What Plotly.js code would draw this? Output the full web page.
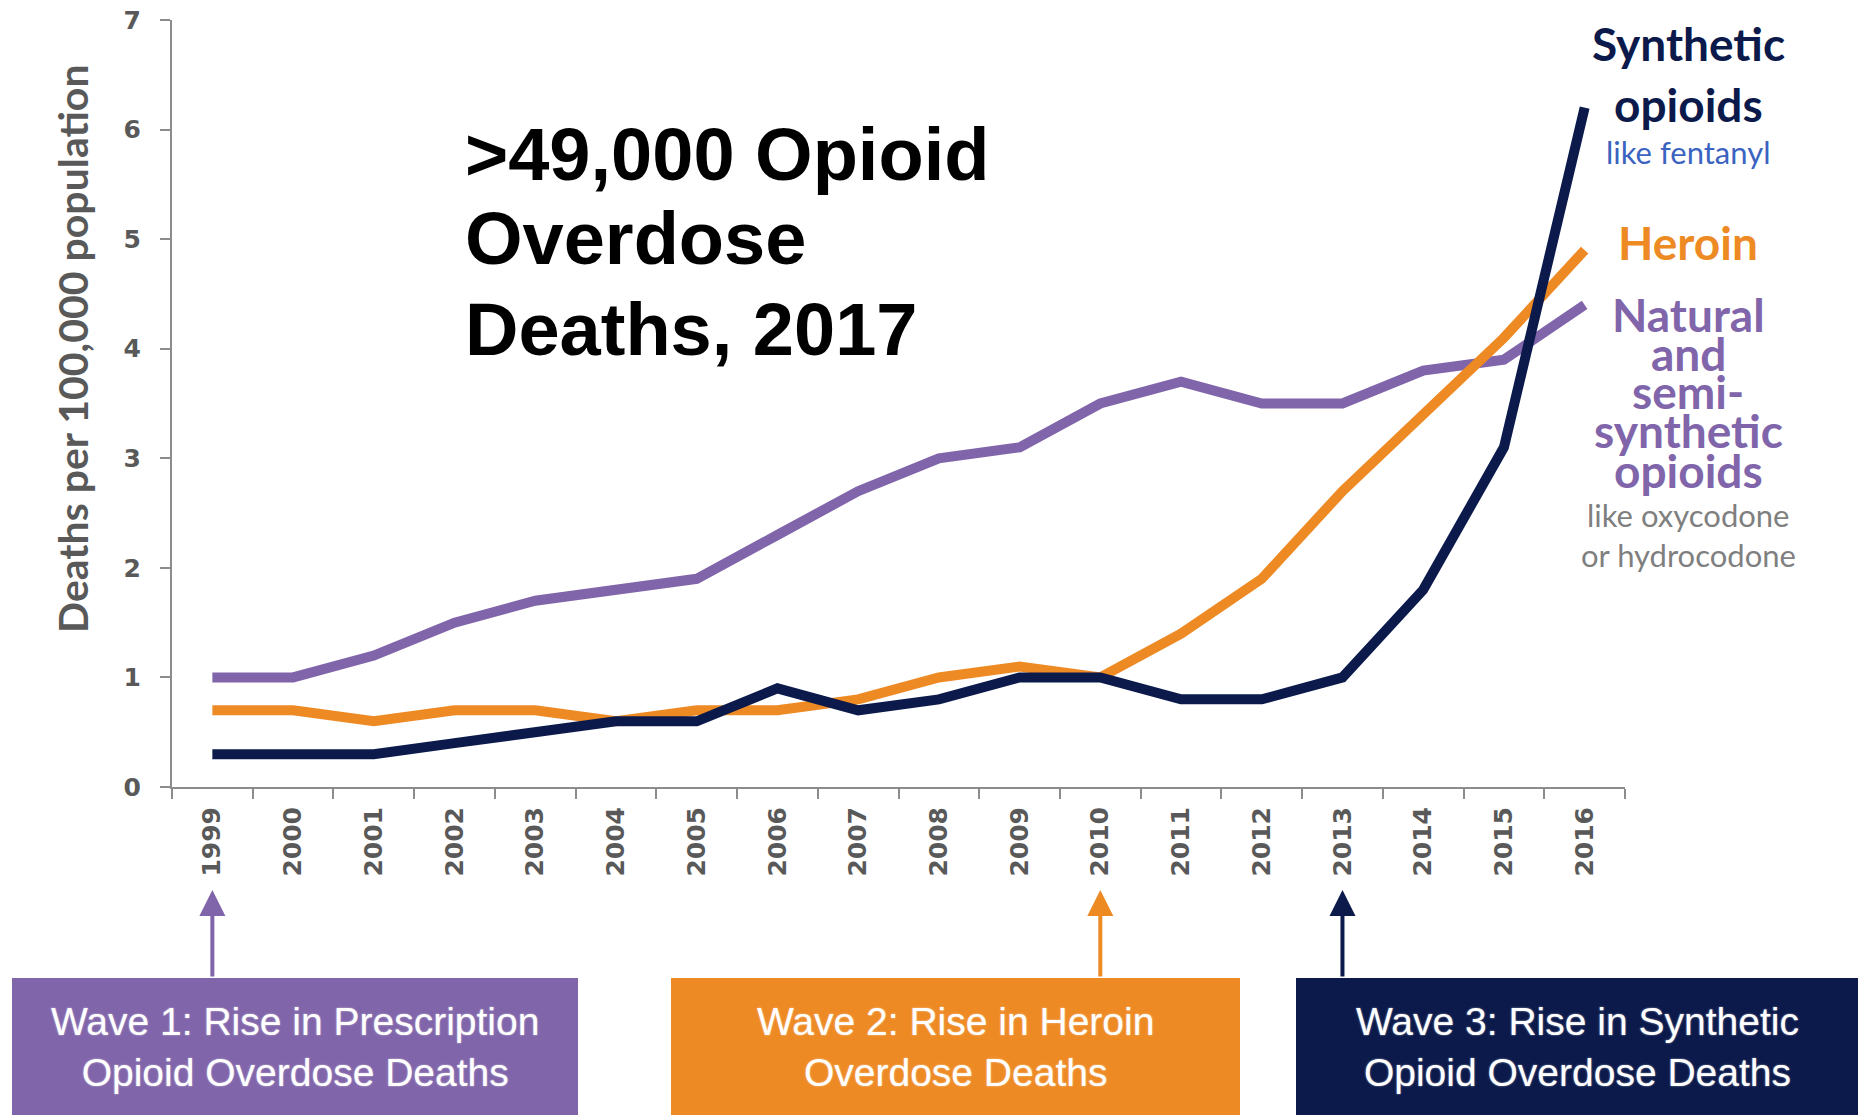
<!DOCTYPE html>
<html>
<head>
<meta charset="utf-8">
<script src="https://cdn.plot.ly/plotly-3.0.1.min.js"></script>
<style>html,body{margin:0;padding:0;background:#fff;}#chart{width:1858px;height:1115px;}</style>
</head>
<body>
<div id="chart"></div>
<script>
// ---- data ----
const years = ['1999','2000','2001','2002','2003','2004','2005','2006','2007','2008','2009','2010','2011','2012','2013','2014','2015','2016'];
const naturalSemiSynthetic = [1.0,1.0,1.2,1.5,1.7,1.8,1.9,2.3,2.7,3.0,3.1,3.5,3.7,3.5,3.5,3.8,3.9,4.4];
const heroin = [0.7,0.7,0.6,0.7,0.7,0.6,0.7,0.7,0.8,1.0,1.1,1.0,1.4,1.9,2.7,3.4,4.1,4.9];
const syntheticOpioids = [0.3,0.3,0.3,0.4,0.5,0.6,0.6,0.9,0.7,0.8,1.0,1.0,0.8,0.8,1.0,1.8,3.1,6.2];
const titleLines = ['>49,000 Opioid','Overdose','Deaths, 2017'];
const waveYears = ['1999','2010','2013'];
const waveLabels = ['Wave 1: Rise in Prescription<br>Opioid Overdose Deaths','Wave 2: Rise in Heroin<br>Overdose Deaths','Wave 3: Rise in Synthetic<br>Opioid Overdose Deaths'];

const PURPLE = '#8065aa', ORANGE = '#ee8a24', NAVY = '#0b1a4b';
const W = 1858, H = 1115, L = 172, R = 1625, T = 20, B = 787;
const px2x = p => (p - L) / (R - L);
const px2y = p => (B - p) / (B - T);

const traces = [
  {x: years, y: naturalSemiSynthetic, name: 'Natural and semi-synthetic opioids', type: 'scatter', mode: 'lines', line: {color: PURPLE, width: 10}},
  {x: years, y: heroin, name: 'Heroin', type: 'scatter', mode: 'lines', line: {color: ORANGE, width: 10}},
  {x: years, y: syntheticOpioids, name: 'Synthetic opioids', type: 'scatter', mode: 'lines', line: {color: NAVY, width: 10}}
];

const annotations = [];
// title lines
const titleCenters = [155, 239, 329];
titleLines.forEach((t, i) => annotations.push({
  xref: 'paper', yref: 'paper', x: px2x(463), y: px2y(titleCenters[i]), xanchor: 'left', yanchor: 'middle',
  text: t, showarrow: false, font: {family: 'Liberation Sans, Arial, sans-serif', size: 74, color: '#000', weight: 'bold'}
}));
// y axis title
annotations.push({xref: 'paper', yref: 'paper', x: px2x(72), y: px2y(349), xanchor: 'center', yanchor: 'middle', textangle: -90,
  text: 'Deaths per 100,000 population', showarrow: false, font: {family: 'Lato, Open Sans, sans-serif', size: 41, color: '#595959', weight: 'bold'}});

// right-side labels
const LX = px2x(1688);
const rightLabels = [
  {t: 'Synthetic', c: 44, col: NAVY, s: 46, b: true},
  {t: 'opioids', c: 104, col: NAVY, s: 46, b: true},
  {t: 'like fentanyl', c: 152, col: '#3b63c0', s: 31, b: false},
  {t: 'Heroin', c: 243, col: ORANGE, s: 46, b: true},
  {t: 'Natural', c: 314, col: PURPLE, s: 46, b: true},
  {t: 'and', c: 353, col: PURPLE, s: 46, b: true},
  {t: 'semi-', c: 392, col: PURPLE, s: 46, b: true},
  {t: 'synthetic', c: 431, col: PURPLE, s: 46, b: true},
  {t: 'opioids', c: 470, col: PURPLE, s: 46, b: true},
  {t: 'like oxycodone', c: 515, col: '#7f7f7f', s: 31, b: false},
  {t: 'or hydrocodone', c: 555, col: '#7f7f7f', s: 31, b: false}
];
rightLabels.forEach(r => annotations.push({
  xref: 'paper', yref: 'paper', x: LX, y: px2y(r.c), xanchor: 'center', yanchor: 'middle', text: r.t, showarrow: false,
  font: {family: 'Lato, Open Sans, sans-serif', size: r.s, color: r.col, weight: r.b ? 'bold' : 'normal'}
}));

// wave boxes
const boxes = [[12, 578, PURPLE], [671, 1240, ORANGE], [1296, 1880, NAVY]];
const shapes = boxes.map(b => ({type: 'rect', xref: 'paper', yref: 'paper', x0: px2x(b[0]), x1: px2x(b[1]), y0: px2y(978), y1: px2y(1125), fillcolor: b[2], line: {width: 0}, layer: 'above'}));
boxes.forEach((b, i) => annotations.push({
  xref: 'paper', yref: 'paper', x: px2x((b[0] + Math.min(b[1], W)) / 2), y: px2y(1047), xanchor: 'center', yanchor: 'middle',
  text: waveLabels[i], showarrow: false,
  font: {family: 'Liberation Sans, Arial, sans-serif', size: 39, color: '#ffffff', shadow: '0px 0px 2px rgba(255,255,255,0.6)'}
}));
// arrows (paper x = centre of the year's category slot)
const arrowCols = [PURPLE, ORANGE, NAVY];
waveYears.forEach((yr, i) => annotations.push({
  xref: 'paper', yref: 'paper', x: (years.indexOf(yr) + 0.5) / years.length, y: px2y(890), ax: 0, ay: 88, axref: 'pixel', ayref: 'pixel', text: '', showarrow: true,
  arrowhead: 2, arrowsize: 1.3, arrowwidth: 4, arrowcolor: arrowCols[i], standoff: 0, startstandoff: 0
}));

const layout = {
  width: W, height: H,
  margin: {l: L, r: W - R, t: T, b: H - B, pad: 0},
  paper_bgcolor: '#fff', plot_bgcolor: '#fff',
  showlegend: false,
  xaxis: {type: 'category', range: [-0.5, 17.5], tickson: 'boundaries', ticks: 'outside', ticklen: 10, tickwidth: 2, tickcolor: '#8c8c8c',
    showline: true, linecolor: '#8c8c8c', linewidth: 2, showgrid: false, zeroline: false, tickangle: -90, ticklabelstandoff: 8,
    tickfont: {family: 'DejaVu Sans, Verdana, sans-serif', size: 25, color: '#595959', weight: 'bold'}},
  yaxis: {range: [0, 7], dtick: 1, ticks: 'outside', ticklen: 10, tickwidth: 2, tickcolor: '#8c8c8c',
    showline: true, linecolor: '#8c8c8c', linewidth: 2, showgrid: false, zeroline: false, ticklabelstandoff: 14,
    tickfont: {family: 'DejaVu Sans, Verdana, sans-serif', size: 25, color: '#595959', weight: 'bold'}},
  annotations: annotations,
  shapes: shapes
};

Plotly.newPlot('chart', traces, layout, {displayModeBar: false, staticPlot: true});
</script>
</body>
</html>
